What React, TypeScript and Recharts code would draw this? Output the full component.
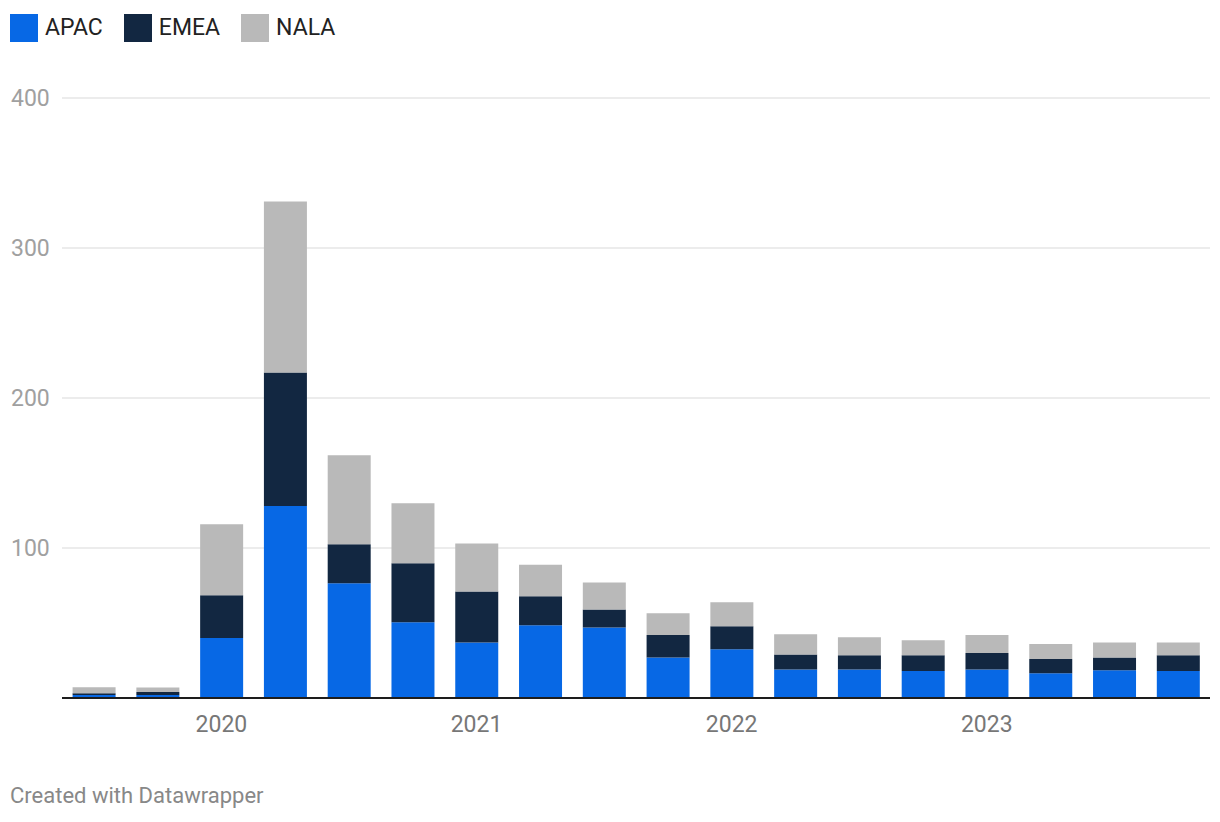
import React from 'react';
import { BarChart, Bar, XAxis, YAxis, CartesianGrid } from 'recharts';

const quarters = [
  '2019 Q3', '2019 Q4',
  '2020 Q1', '2020 Q2', '2020 Q3', '2020 Q4',
  '2021 Q1', '2021 Q2', '2021 Q3', '2021 Q4',
  '2022 Q1', '2022 Q2', '2022 Q3', '2022 Q4',
  '2023 Q1', '2023 Q2', '2023 Q3', '2023 Q4',
];
const apac = [2, 2, 40, 128, 76.5, 50.5, 37, 48.5, 47, 27, 32.5, 19, 19, 18, 19, 16.5, 18.5, 18];
const emea = [1.2, 2, 28.5, 89, 26, 39.3, 34, 19.3, 12, 15, 15.3, 10, 9.5, 10.5, 11, 9.5, 8.5, 10.5];
const nala = [4, 3, 47.3, 114, 59.3, 40, 32, 21, 18, 14.5, 16, 13.5, 12, 10, 12, 10, 10, 8.5];
const yTicks = [0, 100, 200, 300, 400];

const SERIES = [
  { key: 'APAC', color: '#0768e5' },
  { key: 'EMEA', color: '#122741' },
  { key: 'NALA', color: '#b9b9b9' },
];

const FONT = 'Roboto, "Noto Sans", sans-serif';

const data = quarters.map((q, i) => ({
  quarter: q,
  APAC: apac[i],
  EMEA: emea[i],
  NALA: nala[i],
}));

const YTick = (props: any) => {
  const { y, payload } = props;
  if (payload.value === 0) return null;
  return (
    <text x={11} y={y} dy={8} textAnchor="start" fill="#a0a0a0" fontSize={23} fontFamily={FONT}>
      {payload.value}
    </text>
  );
};

const XTick = (props: any) => {
  const { x, y, payload } = props;
  const [year, q] = String(payload.value).split(' ');
  if (q !== 'Q1') return null;
  return (
    <text x={x} y={y} dy={26} textAnchor="middle" fill="#777777" fontSize={23} fontFamily={FONT}>
      {year}
    </text>
  );
};

export default function App() {
  return (
    <div style={{ position: 'absolute', left: 0, top: 0, width: 1220, height: 822, background: '#fff', fontFamily: FONT }}>
      {/* legende */}
      <div style={{ position: 'absolute', left: 10, top: 14, display: 'flex', alignItems: 'center' }}>
        {SERIES.map((s) => (
          <div key={s.key} style={{ display: 'flex', alignItems: 'center', marginRight: 21 }}>
            <div style={{ width: 28, height: 28, backgroundColor: s.color }}></div>
            <span style={{ marginLeft: 7, fontSize: 23, color: '#222', lineHeight: '28px' }}>{s.key}</span>
          </div>
        ))}
      </div>

      <div style={{ position: 'absolute', left: 0, top: 0 }}>
        <BarChart
          width={1220}
          height={760}
          data={data}
          margin={{ top: 98, right: 10, left: 0, bottom: 0 }}
          barCategoryGap="16.6%"
        >
          <CartesianGrid vertical={false} stroke="#e6e6e6" strokeWidth={1.5} />
          <YAxis
            domain={[0, 400]}
            ticks={yTicks}
            width={62}
            axisLine={false}
            tickLine={false}
            tick={<YTick />}
            interval={0}
          />
          <XAxis
            dataKey="quarter"
            height={62}
            interval={0}
            tickLine={false}
            axisLine={{ stroke: '#1d1d1d', strokeWidth: 2 }}
            tick={<XTick />}
          />
          {SERIES.map((s) => (
            <Bar key={s.key} dataKey={s.key} stackId="a" fill={s.color} isAnimationActive={false} />
          ))}
        </BarChart>
      </div>

      <div style={{ position: 'absolute', left: 10, top: 783, fontSize: 22, color: '#888' }}>
        Created with Datawrapper
      </div>
    </div>
  );
}
